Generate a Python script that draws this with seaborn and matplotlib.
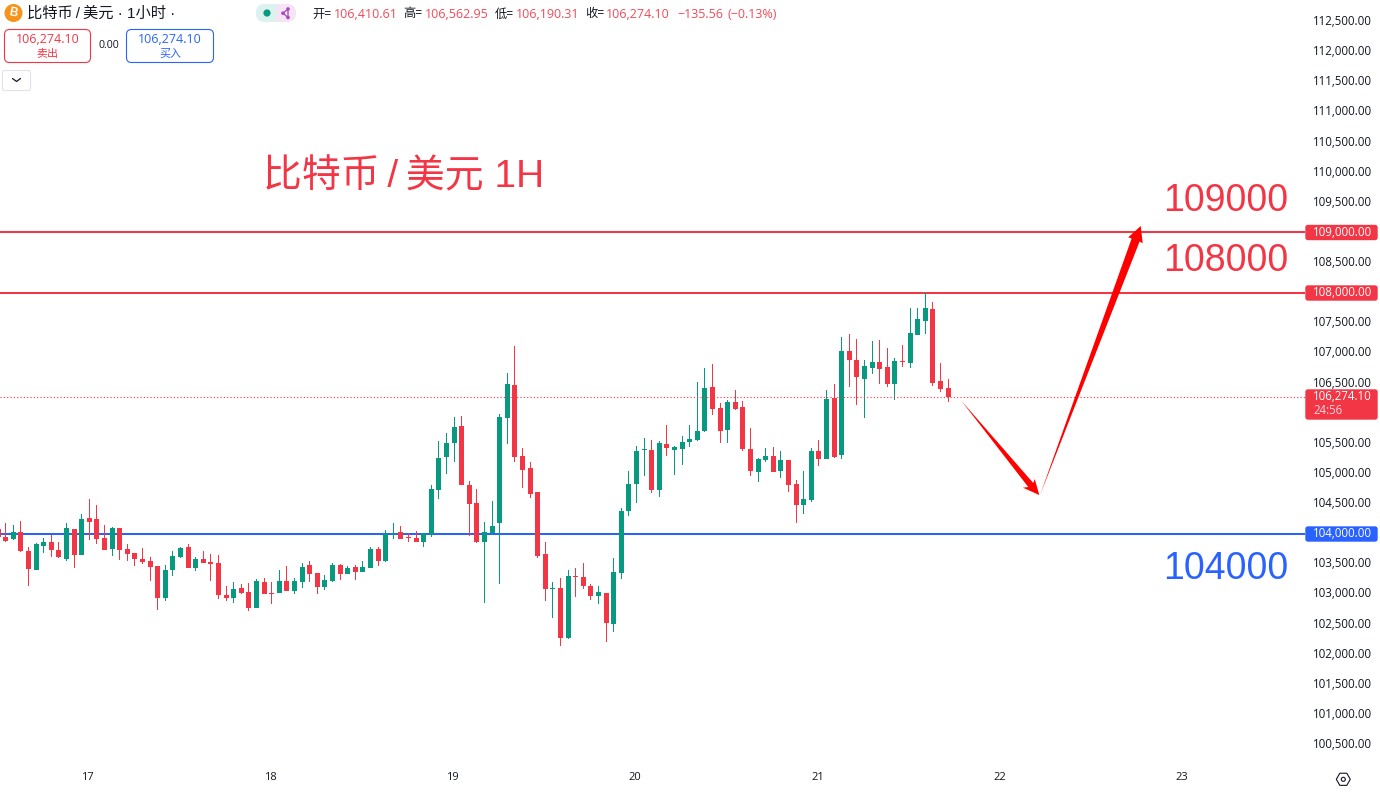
import numpy as np
import pandas as pd
import matplotlib
matplotlib.use('Agg')
import matplotlib.pyplot as plt
import seaborn as sns
from matplotlib.patches import FancyBboxPatch, Rectangle, Circle, RegularPolygon
from matplotlib.transforms import ScaledTranslation

# hours counted from the 17th 00:00
hours = list(range(-12, 114))

opens = [104077, 103945, 103912, 104028, 103713, 103398, 103796, 103862, 103729, 103580, 104077, 103646,
         104260, 104243, 103928, 103746, 104094, 103746, 103680, 103580, 103547, 103464, 102934, 103398,
         103613, 103779, 103431, 103580, 103530, 103514, 102983, 102934, 103099, 103033, 102768, 103199,
         103017, 103017, 103215, 103050, 103199, 103481, 103348, 103116, 103215, 103481, 103331, 103447,
         103365, 103431, 103746, 103547, 103995, 104028, 103945, 103928, 103862, 103978, 104724, 105271,
         105503, 105785, 104807, 104508, 103862, 104011, 104177, 105917, 106464, 105287, 105088, 104691,
         103663, 103083, 103099, 102271, 103298, 103282, 103133, 102967, 103017, 102503, 103348, 104376,
         104823, 105387, 105387, 104724, 105486, 105387, 105403, 105519, 105553, 105702, 106431, 106083,
         105718, 106182, 106100, 105403, 105022, 105221, 105287, 105039, 105221, 104823, 104475, 104558,
         105370, 105238, 106249, 105304, 107028, 106879, 106564, 106746, 106845, 106763, 106481, 106862,
         106829, 107293, 107525, 107724, 106530, 106410.61]
closes = [103950, 103878, 104028, 103713, 103414, 103829, 103862, 103729, 103608, 104094, 103646, 104243,
          104193, 103912, 103729, 104094, 103729, 103663, 103580, 103530, 103447, 102934, 103398, 103630,
          103762, 103431, 103580, 103514, 103497, 102983, 102934, 103083, 103017, 102768, 103215, 103000,
          103000, 103215, 103050, 103215, 103447, 103331, 103116, 103232, 103481, 103331, 103431, 103365,
          103447, 103746, 103547, 103995, 104011, 103912, 103928, 103862, 104011, 104740, 105254, 105503,
          105768, 104807, 104492, 103862, 104028, 104127, 105934, 106481, 105271, 105055, 104657, 103630,
          103083, 103099, 102271, 103298, 103282, 103133, 102967, 103033, 102519, 103365, 104376, 104823,
          105370, 105403, 104724, 105503, 105420, 105437, 105519, 105569, 105702, 106414, 106066, 105702,
          106182, 106066, 105403, 105039, 105238, 105287, 105022, 105221, 104807, 104475, 104575, 105370,
          105238, 106232, 105271, 107028, 106879, 106597, 106779, 106845, 106729, 106481, 106862, 106845,
          107326, 107558, 107740, 106497, 106398, 106274.10]
highs = [104077, 104177, 104144, 104210, 103779, 103845, 103928, 103978, 103862, 104177, 104077, 104326,
         104575, 104475, 104144, 104110, 104094, 103829, 103680, 103762, 103613, 103464, 103481, 103713,
         103779, 103829, 103613, 103713, 103663, 103646, 103133, 103199, 103166, 103182, 103249, 103265,
         103199, 103398, 103464, 103265, 103514, 103547, 103348, 103315, 103514, 103497, 103464, 103481,
         103547, 103779, 103779, 104061, 104177, 104127, 104011, 104044, 104011, 104807, 105536, 105669,
         105934, 105950, 104873, 104740, 104193, 104541, 105983, 106663, 107111, 105420, 105188, 104691,
         103862, 103199, 103265, 103398, 103431, 103514, 103166, 103133, 103017, 103597, 104425, 105039,
         105453, 105586, 105553, 105536, 105801, 105453, 105619, 105801, 106514, 106746, 106812, 106166,
         106216, 106381, 106199, 105751, 105254, 105420, 105437, 105370, 105221, 104890, 105039, 105420,
         105553, 106381, 106481, 107260, 107309, 107227, 106879, 107193, 107210, 107077, 106912, 107127,
         107740, 107740, 108006, 107840, 106829, 106562.95]
lows = [103950, 103862, 103895, 103696, 103133, 103398, 103680, 103613, 103597, 103547, 103431, 103646,
        103895, 103829, 103729, 103630, 103564, 103547, 103464, 103497, 103215, 102735, 102884, 103298,
        103597, 103431, 103381, 103514, 103215, 102917, 102884, 102851, 103000, 102718, 102768, 103000,
        102834, 103017, 103050, 103000, 103099, 103199, 103000, 103066, 103199, 103232, 103331, 103232,
        103365, 103431, 103464, 103530, 103912, 103912, 103862, 103862, 103779, 103945, 104575, 104989,
        105188, 104807, 103961, 103845, 102851, 103995, 103166, 105486, 105188, 104757, 104591, 103597,
        102884, 102602, 102138, 102254, 102950, 103083, 102901, 102834, 102204, 102370, 103249, 104293,
        104508, 104956, 104674, 104608, 105287, 104972, 105138, 105437, 105536, 105685, 105967, 105503,
        105503, 106050, 105370, 104956, 104856, 105188, 105022, 104923, 104691, 104177, 104326, 104525,
        105122, 105238, 105254, 105238, 106431, 106133, 105917, 106646, 106481, 106431, 106216, 106763,
        106746, 107293, 107309, 106448, 106348, 106190.31]

price_ticks = [100500, 101000, 101500, 102000, 102500, 103000, 103500, 104500, 105000, 105500, 106500,
               107000, 107500, 108500, 109500, 110000, 110500, 111000, 111500, 112000, 112500]
day_hours = [0, 24, 48, 72, 96, 120, 144]
day_labels = ['17', '18', '19', '20', '21', '22', '23']

last_price = 106274.10
resistance = [109000, 108000]
support = 104000

# the two hand-drawn arrows, in (hour, price)
arrow_down_x = [114.7, 124.2, 124.4, 125.0, 122.85, 123.55]
arrow_down_y = [106214, 104842, 104908, 104642, 104764, 104775]
arrow_up_x = [125.1, 138.2, 138.6, 138.35, 136.7, 137.15]
arrow_up_y = [104642, 108851, 108821, 109108, 108920, 108900]

RED = '#F23645'
GREEN = '#089981'
BLUE = '#2962FF'
INK = '#131722'
BIG_FONT = ['Liberation Sans', 'Noto Sans CJK SC', 'DejaVu Sans']

sns.set_theme(style='white')
plt.rcParams['font.family'] = ['Open Sans', 'Noto Sans CJK SC', 'DejaVu Sans']

df = pd.DataFrame({'hour': hours, 'open': opens, 'high': highs, 'low': lows, 'close': closes})
df['top'] = df[['open', 'close']].max(axis=1)
df['bottom'] = df[['open', 'close']].min(axis=1)
df['wick'] = df['high'] - df['low']
df['body'] = df['top'] - df['bottom']

fig = plt.figure(figsize=(13.8, 7.92), dpi=100, facecolor='white')
ax = fig.add_axes([0, 24 / 792, 1305 / 1380, 768 / 792])

# candles
for color, part in [(RED, df[df['close'] < df['open']]), (GREEN, df[df['close'] >= df['open']])]:
    sns.barplot(data=part, x='hour', y='wick', bottom=part['low'].values, native_scale=True, width=0.14,
                color=color, saturation=1, errorbar=None, linewidth=0, antialiased=False, zorder=3, ax=ax)
    sns.barplot(data=part, x='hour', y='body', bottom=part['bottom'].values, native_scale=True, width=0.66,
                color=color, saturation=1, errorbar=None, linewidth=0, antialiased=False, zorder=3, ax=ax)

for level in resistance:
    ax.axhline(level, color=RED, lw=1.45, zorder=2)
ax.axhline(support, color=BLUE, lw=1.45, zorder=2)
ax.axhline(last_price, color=RED, lw=0.8, ls=(0, (1, 2)), zorder=4)

ax.fill(arrow_down_x, arrow_down_y, color='#FF0000', lw=0, zorder=5)
ax.fill(arrow_up_x, arrow_up_y, color='#FF0000', lw=0, zorder=5)

ax.set_xlim(-11.75, 159.96)
ax.set_ylim(100111, 112859)
ax.yaxis.tick_right()
ax.set_yticks(price_ticks)
ax.set_yticklabels([f'{p:,.2f}' for p in price_ticks])
ax.set_xticks(day_hours)
ax.set_xticklabels(day_labels)
ax.tick_params(axis='y', length=0, pad=6, labelsize=8.3, labelcolor=INK)
ax.tick_params(axis='x', length=0, pad=3, labelsize=8, labelcolor=INK)
ax.set_xlabel('')
ax.set_ylabel('')
sns.despine(ax=ax, left=True, bottom=True, right=True, top=True)

# nudge the labels onto the reference's rows
for lab in ax.get_yticklabels():
    lab.set_transform(lab.get_transform() + ScaledTranslation(0, 1.5 / 100, fig.dpi_scale_trans))
for lab in ax.get_xticklabels():
    lab.set_transform(lab.get_transform() + ScaledTranslation(-1.5 / 100, 0, fig.dpi_scale_trans))

# overlay in pixel units for the terminal chrome and the written levels
ui = fig.add_axes([0, 0, 1, 1], facecolor='none')
ui.set_xlim(0, 1380)
ui.set_ylim(792, 0)
ui.axis('off')

ui.text(263, 177, '比特币\u2009/\u2009美元 1H', color=RED, fontsize=28, va='center', ha='left', family=BIG_FONT)
ui.text(1163, 201, '109000', color=RED, fontsize=27, va='center', ha='left', family=BIG_FONT)
ui.text(1163, 261, '108000', color=RED, fontsize=27, va='center', ha='left', family=BIG_FONT)
ui.text(1163, 569, '104000', color=BLUE, fontsize=27, va='center', ha='left', family=BIG_FONT)


def badge(y0, y1, color):
    ui.add_patch(FancyBboxPatch((1306, y0 + 1), 71, y1 - y0 - 2, boxstyle='round,pad=0,rounding_size=2',
                                fc=color, ec=color, lw=1))


badge(224.5, 240.5, RED)
ui.text(1313, 232, '109,000.00', color='white', fontsize=8.3, va='center', ha='left')
badge(285, 301, RED)
ui.text(1313, 292.5, '108,000.00', color='white', fontsize=8.3, va='center', ha='left')
badge(526, 542, BLUE)
ui.text(1313, 533.5, '104,000.00', color='white', fontsize=8.3, va='center', ha='left')
badge(389, 420, RED)
ui.text(1313, 396.5, '106,274.10', color='white', fontsize=8.3, va='center', ha='left')
ui.text(1313, 410.5, '24:56', color='#FBD5D9', fontsize=8.3, va='center', ha='left')

# header: symbol line
ui.add_patch(Circle((13.5, 13), 9, fc='#F7931A', ec='none'))
ui.text(13.5, 13, 'B', color='white', fontsize=8.5, weight='bold', rotation=-12, va='center', ha='center',
        family='Liberation Sans')
ui.text(27, 13.5, '比特币\u2009/\u2009美元 · 1小时 ·', color=INK, fontsize=11, va='center', ha='left', family=BIG_FONT)

ui.add_patch(FancyBboxPatch((256, 4), 40, 18, boxstyle='round,pad=0,rounding_size=9', fc='#F3E5F5', ec='none'))
ui.add_patch(FancyBboxPatch((256, 4), 20, 18, boxstyle='round,pad=0,rounding_size=9', fc='#DCF2EE', ec='none'))
ui.add_patch(Rectangle((266, 4), 10, 18, fc='#DCF2EE', ec='none'))
ui.add_patch(Circle((267, 13), 3.6, fc=GREEN, ec='none'))
ui.plot([288, 283, 288, 288], [9, 13.2, 17.5, 9], color='#AB47BC', lw=0.9)
for cx, cy in [(288, 9), (283, 13.2), (288, 17.5)]:
    ui.add_patch(Circle((cx, cy), 1.8, fc='#AB47BC', ec='none'))

# header: OHLC values
for x, label in [(312, '开='), (403, '高='), (495, '低='), (585, '收=')]:
    ui.text(x, 14, label, color=INK, fontsize=8.8, va='center', ha='left')
for x, label in [(334, '106,410.61'), (425, '106,562.95'), (516, '106,190.31'), (606, '106,274.10'),
                 (677, '−135.56'), (727, '(−0.13%)')]:
    ui.text(x, 14, label, color=RED, fontsize=9, va='center', ha='left', alpha=0.9)

# header: sell / buy boxes
ui.add_patch(FancyBboxPatch((4.5, 29.5), 86, 33, boxstyle='round,pad=0,rounding_size=5', fc='white', ec=RED, lw=0.8))
ui.text(48, 39.5, '106,274.10', color=RED, fontsize=9, va='center', ha='center')
ui.text(47.5, 54.5, '卖出', color=RED, fontsize=7.9, va='center', ha='center')
ui.text(108.5, 46, '0.00', color=INK, fontsize=7.6, va='center', ha='center')
ui.add_patch(FancyBboxPatch((126.5, 29.5), 87, 33, boxstyle='round,pad=0,rounding_size=5', fc='white', ec=BLUE, lw=0.8))
ui.text(170, 39.5, '106,274.10', color=BLUE, fontsize=9, va='center', ha='center')
ui.text(170, 54.5, '买入', color=BLUE, fontsize=7.9, va='center', ha='center')

# collapse button
ui.add_patch(FancyBboxPatch((2.5, 70.5), 28, 20, boxstyle='round,pad=0,rounding_size=2', fc='white', ec='#E0E3EB', lw=0.8))
ui.plot([12.5, 16.5, 20.5], [78.5, 81.5, 78.5], color=INK, lw=0.9)

# chart settings icon
ui.add_patch(RegularPolygon((1343.3, 779.3), 6, radius=7, orientation=np.pi / 2, fc='white', ec=INK, lw=0.8))
ui.add_patch(Circle((1343.3, 779.3), 2, fc='white', ec=INK, lw=0.8))

fig.savefig('out.png', dpi=100, facecolor='white')
